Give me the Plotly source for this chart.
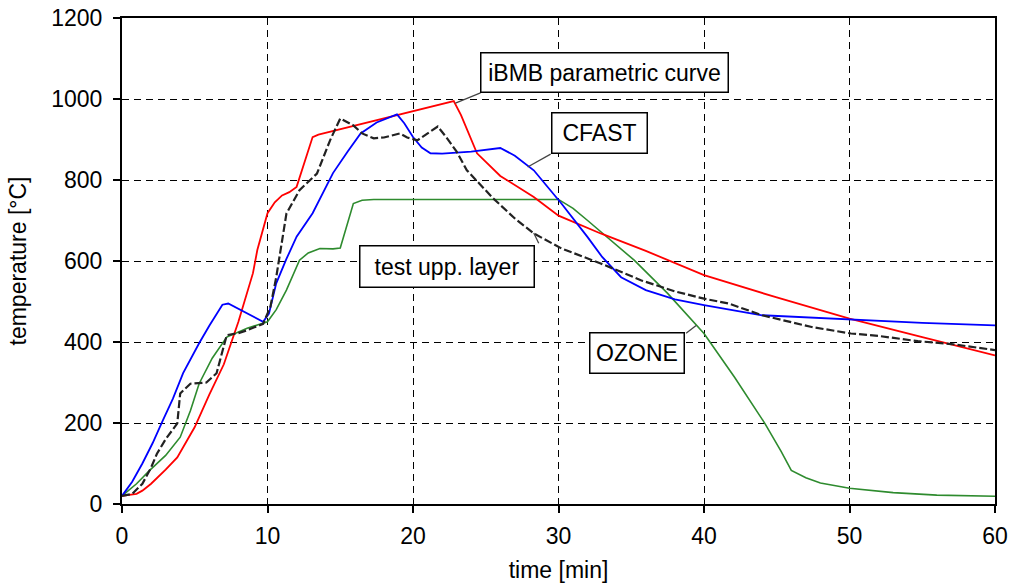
import plotly.graph_objects as go

# iBMB parametric curve (red)
ibmb_t = [0, 1, 1.4, 2, 3, 3.8, 5, 5.3, 6, 7, 7.4, 8, 9, 9.3, 10, 10.5, 11, 11.5, 12, 12.5, 13.1, 13.5,
          22.8, 23.3, 24.4, 26, 28.3, 30, 32.9, 36, 40, 45, 50, 55, 60]
ibmb_T = [20, 25, 33, 50, 85, 115, 190, 214, 270, 345, 387, 450, 570, 627, 718, 745, 762, 770, 783, 840, 906, 912,
          995, 960, 866, 810, 758, 712, 668, 625, 565, 510, 458, 412, 367]

# CFAST (blue)
cfast_t = [0, 0.7, 1.4, 2.1, 2.8, 3.5, 4.2, 5.3, 6, 6.9, 7.3, 8, 8.6, 9.2, 9.7, 10.1, 10.6, 11.3, 12, 13.1,
           14.5, 15.5, 16.4, 17.5, 18.9, 19.4, 20, 20.6, 21.2, 22, 24, 26, 27, 28.3, 30.2, 32, 33, 34.3, 36,
           38, 40, 44, 50, 55, 60]
cfast_T = [20, 55, 100, 150, 206, 260, 323, 397, 440, 492, 495, 482, 470, 460, 450, 470, 545, 605, 660, 718,
           817, 870, 915, 942, 962, 940, 906, 880, 866, 865, 870, 879, 860, 824, 742, 659, 610, 560, 528,
           505, 491, 466, 455, 447, 441]

# OZONE (green)
ozone_t = [0, 1, 1.9, 3, 4, 4.7, 5.3, 6.2, 7.2, 8, 8.6, 9.3, 10, 10.6, 11.3, 12.2, 12.8, 13.6, 14.5, 15,
           15.4, 15.9, 16.5, 17.3, 30, 31, 32, 33.5, 35.2, 37.5, 40, 42.1, 44.2, 45.3, 46, 47, 48, 50, 53, 56, 60]
ozone_T = [20, 50, 83, 120, 165, 230, 297, 360, 412, 425, 434, 442, 450, 480, 528, 602, 620, 631, 630, 632,
           680, 742, 750, 752, 752, 730, 700, 655, 602, 520, 421, 313, 198, 130, 83, 65, 52, 39, 28, 22, 19]

# test upper layer (black, dashed)
test_t = [0, 0.7, 1.4, 2, 2.4, 3, 3.8, 4, 4.7, 5.8, 6.5, 7.2, 8, 8.6, 9.7, 10.2, 10.6, 11.3, 12.2, 13.4,
          14.3, 15, 15.9, 16.5, 17.3, 18, 19.1, 19.6, 20.3, 21, 21.7, 22.3, 23, 23.7, 25.5, 27, 28.3, 30.2,
          32.9, 35.7, 38, 40, 41.7, 44, 47.4, 50.1, 52, 54.7, 57, 60]
test_T = [20, 25, 50, 90, 124, 160, 199, 273, 297, 300, 323, 417, 422, 429, 445, 487, 560, 717, 775, 816,
          898, 952, 935, 915, 903, 905, 915, 905, 898, 915, 932, 905, 870, 824, 755, 705, 668, 631,
          594, 552, 525, 507, 495, 466, 437, 421, 415, 402, 395, 380]

x_ticks = [0, 10, 20, 30, 40, 50, 60]
y_ticks = [0, 200, 400, 600, 800, 1000, 1200]

FONT = "Liberation Sans, Arial, sans-serif"
FS = 23

fig = go.Figure()
fig.add_trace(go.Scatter(x=ozone_t, y=ozone_T, mode="lines", line=dict(color="#2e8b2e", width=1.6), name="OZONE"))
fig.add_trace(go.Scatter(x=ibmb_t, y=ibmb_T, mode="lines", line=dict(color="#ff0000", width=1.8), name="iBMB parametric curve"))
fig.add_trace(go.Scatter(x=cfast_t, y=cfast_T, mode="lines", line=dict(color="#0000ff", width=1.8), name="CFAST"))
fig.add_trace(go.Scatter(x=test_t, y=test_T, mode="lines", line=dict(color="#222222", width=2.2, dash="8px,3px"),
                         name="test upp. layer"))

axis_common = dict(showline=True, linecolor="black", linewidth=2, mirror=True,
                   ticks="outside", ticklen=7, tickwidth=1.5, tickcolor="black",
                   showgrid=True, gridcolor="black", gridwidth=1.3, griddash="7px,5px",
                   zeroline=False, automargin=False,
                   tickfont=dict(family=FONT, size=FS, color="black"))

fig.update_xaxes(range=[0, 60], tickvals=x_ticks, ticktext=[str(v) for v in x_ticks],
                 ticklabelstandoff=3,
                 title=dict(text="time [min]", font=dict(family=FONT, size=FS, color="black"), standoff=14),
                 **axis_common)
fig.update_yaxes(range=[0, 1200], tickvals=y_ticks, ticktext=[str(v) for v in y_ticks],
                 ticklabelstandoff=6,
                 title=dict(text="temperature [°C]", font=dict(family=FONT, size=FS, color="black"), standoff=18),
                 **axis_common)

boxes = [
    ("iBMB parametric curve", 33.18, 1064.5, 240, 32),
    ("CFAST", 32.84, 914.9, 88, 33),
    ("test upp. layer", 22.33, 587.2, 167, 34),
    ("OZONE", 35.42, 373.4, 87, 33),
]
for txt, bx, by, w, h in boxes:
    fig.add_annotation(x=bx, y=by, xref="x", yref="y", text=txt, showarrow=False,
                       font=dict(family=FONT, size=FS, color="black"),
                       bgcolor="white", bordercolor="black", borderwidth=1.5, borderpad=3,
                       width=w, height=h, align="center", valign="middle")

pointers = [
    (24.64, 1015, 22.92, 990),
    (29.46, 864, 27.88, 832),
    (28.64, 644, 28.3, 669),
    (38.77, 421.6, 39.46, 441),
]
for x0, y0, x1, y1 in pointers:
    fig.add_shape(type="line", x0=x0, y0=y0, x1=x1, y1=y1, xref="x", yref="y",
                  line=dict(color="#444444", width=1.3))

fig.update_layout(width=1012, height=584, margin=dict(l=122, r=17, t=18, b=80),
                  plot_bgcolor="white", paper_bgcolor="white", showlegend=False,
                  font=dict(family=FONT, color="black"))

fig.write_html("out.html")
